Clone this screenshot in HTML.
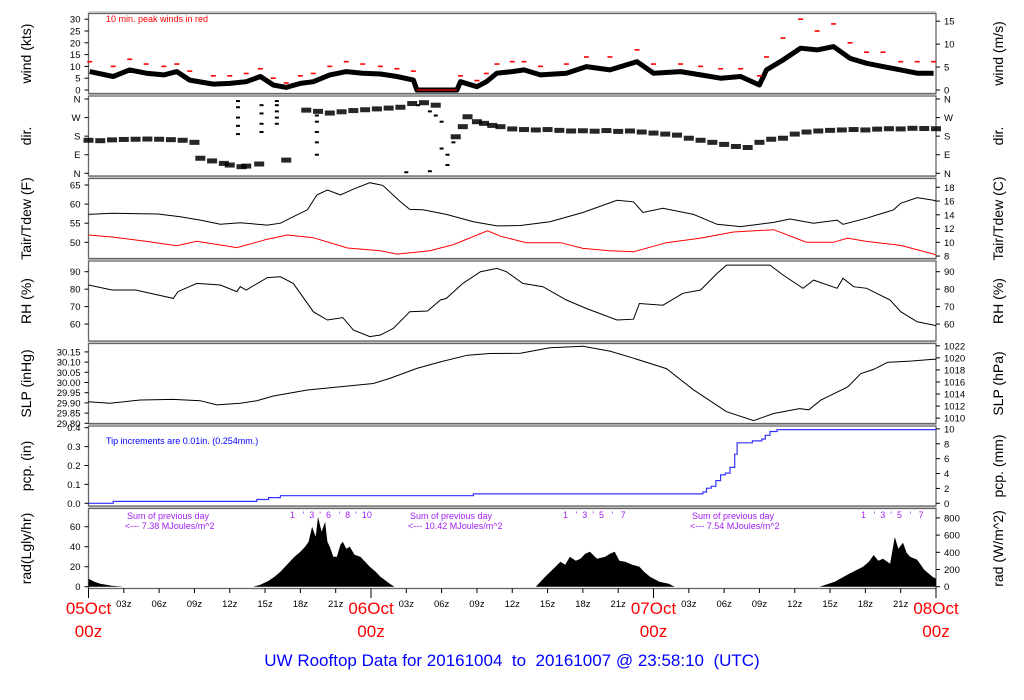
<!DOCTYPE html>
<html><head><meta charset="utf-8">
<style>
html,body{margin:0;padding:0;background:#fff;}
svg{display:block;font-family:"Liberation Sans",Arial,sans-serif;}
</style></head>
<body>
<svg id="chart" width="1024" height="700" viewBox="0 0 1024 700" xmlns="http://www.w3.org/2000/svg">
<g id="panels"></g>
<g id="marks"></g>
<g id="labels"></g>
<text x="106" y="22" font-size="9" fill="#ff0000">10 min. peak winds in red</text>
<text x="106" y="444" font-size="9" fill="#0000ff">Tip increments are 0.01in. (0.254mm.)</text>
<g fill="#a020f0" font-size="9">
<text x="127" y="519">Sum of previous day</text>
<text x="125" y="529">&lt;--- 7.38 MJoules/m^2</text>
<text x="410" y="519">Sum of previous day</text>
<text x="408" y="529">&lt;--- 10.42 MJoules/m^2</text>
<text x="692" y="519">Sum of previous day</text>
<text x="690" y="529">&lt;--- 7.54 MJoules/m^2</text>
<text x="290" y="518">1 &#160; ' &#160;3 &#160;' &#160;6 &#160; ' &#160;8 &#160;' &#160;10</text>
<text x="563" y="518">1 &#160; ' &#160;3 &#160;' &#160;5 &#160; ' &#160; 7</text>
<text x="861" y="518">1 &#160; ' &#160;3 &#160;' &#160;5 &#160; ' &#160; 7</text>
</g>
<text x="512" y="666" font-size="17" fill="#0000ff" text-anchor="middle">UW Rooftop Data for 20161004 &#160;to &#160;20161007 @ 23:58:10 &#160;(UTC)</text>
</svg>
<script>
// ---- data ----
const windT=[0.1,2.1,3.5,4.9,6.4,7.5,8.6,10.6,12,13.4,14.6,15.7,16.8,18,19.1,20.5,21.9,23.3,24.8,26.2,27.6,27.9,31.3,31.6,33,33.8,34.7,36,37,38.4,40.6,42.3,44.3,46.6,48,50.3,52,53.7,55.4,57,57.6,59,60.5,61.9,63.3,64.7,66.1,67.5,69,70.4,71.8];
const windV=[7.8,5.7,8.5,7.1,6.4,7.8,4.2,2.5,2.8,3.5,5.7,2.1,1.1,2.8,3.5,6.4,7.8,7.1,6.8,5.7,4.2,0,0,3.5,1.4,3.5,7.1,7.8,8.5,6.4,7.1,9.9,8.5,12,7.1,7.8,6.4,5,5.7,2.1,8.5,12.7,17.7,17,18.4,13.4,11.3,9.9,8.5,7.1,7.1];
const gustV=[12,10,13,11,10,11,8,6,6,7,9,5,3,6,7,10,12,11,10,9,8,null,null,6,4,7,11,12,12,10,11,14,14,17,11,11,10,9,9,6,14,22,30,25,28,20,16,16,12,12,12];
const dirT=[0,1,2,3,4,5,6,7,8,9,9.5,10.5,11.5,12,13,13.4,14.5,16.8,18.5,19.5,20.5,21.5,22.5,23.5,24.5,25.5,26.5,27.5,28.5,29.5,31.2,31.8,32.2,33,33.6,34.3,35,36,37,38,39,40,41,42,43,44,45,46,47,48,49,50,51,52,53,54,55,56,57,58,59,60,61,62,63,64,65,66,67,68,69,70,71,72];
const dirV=[160,158,162,164,165,166,165,163,160,150,73,60,48,40,32,35,45,64,306,300,292,298,304,308,312,316,320,338,342,330,177,226,274,250,242,232,226,215,212,210,212,208,205,206,204,207,203,205,200,195,190,185,170,160,150,140,130,125,150,165,170,190,200,205,208,210,212,210,214,216,215,218,217,216];
const dirScT=[12.7,12.7,12.7,12.7,12.7,14.7,14.7,14.7,14.7,16,16,16,16,16,19.4,19.4,19.4,19.4,19.4,29,29.5,30,30,30.5,30.5,28,29,27,31];
const dirScV=[350,320,270,230,190,330,290,240,200,350,330,300,270,240,280,250,200,150,90,300,280,250,120,90,40,330,10,5,150];
const tairT=[0,2,5.9,7.8,9.5,11.2,12.9,15.2,16.3,17.4,18.6,19.4,20.3,21.4,22.5,23.9,25,26.5,27.3,28.4,30.4,32.7,34.7,36.7,39.2,42,44.9,46.3,47.1,48.8,51.4,53.4,55.4,58.2,59.6,61.6,63.6,64.1,66.1,68.4,69,70.4,71.8,72];
const tairV=[57.3,57.6,57.4,56.7,55.8,54.7,55.1,54.5,55,56.7,58.5,62.4,63.7,62.4,63.9,65.6,64.9,60.6,58.6,58.5,57.3,55.4,54.3,54.4,55.4,57.8,61,60.6,57.8,58.9,57.3,54.7,54.1,55.2,56.1,55,55.8,54.7,56.3,58.5,60.2,61.7,61,60.8];
const tdewT=[0,2,5,7.5,9.2,12.6,15.2,16.9,19.1,22,24.8,26.2,29,31,33.9,35,37.2,40.1,42,44.3,46.3,49.1,52,54.8,58.2,60.4,61,63.3,64.5,66,69,71.8,72];
const tdewV=[51.9,51.4,50.2,49.1,50.3,48.6,50.8,51.9,51.2,48.5,47.8,46.9,47.8,49.4,53,51.6,49.9,49.9,48.4,47.8,47.5,49.9,51.1,52.7,53.3,50.7,50,50,51.1,50.3,49.2,46.9,46.7];
const rhT=[0,2,4,7.2,7.6,9.2,11.2,12.6,12.9,13.4,15.2,16.3,17.4,19.1,20.3,21.6,22.5,23.9,24.8,25.9,27.3,28.8,29.9,30.4,31.8,33.3,34.7,35.5,36.9,38.6,40.6,42.3,44.9,46.3,46.8,48.8,50.5,52,53.4,54.2,57.9,59,60.7,61.6,63.6,64.1,65,66.1,68.1,69,70.4,71.8,72];
const rhV=[82.4,79.5,79.5,74.7,78.6,83.3,82.4,78.6,81.4,79.5,86.6,87.1,83.3,67.1,62.3,63.7,56.6,52.8,53.7,57.5,67.1,67.5,73.8,74.7,83.3,90,91.9,90,83.3,81.4,73.8,68.9,62.3,62.8,71.8,70.8,77.6,79.5,89,93.8,93.8,88.1,80.5,85.2,80.5,86.2,81.4,80.5,73.8,67.1,61.3,59.4,59];
const slpT=[0,1.8,4.4,7.2,9.5,10.9,12.9,14.3,15.7,18.6,21.4,24.2,25.6,27.9,29.9,32.2,34.1,36.7,39.2,42,44.3,46.3,49.1,51.4,54.2,56.5,58.2,60.4,61.2,62.2,64.5,65.6,66.7,67.9,69.8,71.8,72];
const slpV=[29.906,29.898,29.914,29.917,29.911,29.890,29.898,29.911,29.934,29.963,29.979,29.995,30.020,30.069,30.101,30.134,30.142,30.143,30.170,30.178,30.154,30.119,30.068,29.964,29.857,29.813,29.848,29.872,29.866,29.913,29.978,30.043,30.064,30.099,30.105,30.114,30.114];
const pcpT=[0,2.1,14.3,15.3,16.3,32.7,52.2,52.5,52.9,53.3,53.7,54.1,54.5,54.9,55.1,56.4,57.2,57.5,57.9,58.5,72];
const pcpV=[0,0.01,0.02,0.03,0.04,0.05,0.06,0.08,0.09,0.12,0.15,0.16,0.19,0.26,0.32,0.33,0.34,0.36,0.38,0.39,0.39];
const radT=[0,0.5,1,2,3,14,14.6,15.3,15.8,16.3,16.7,17.1,17.5,18,18.4,18.7,19,19.3,19.5,19.8,20.1,20.3,20.5,20.8,21.1,21.4,21.6,21.9,22.2,22.6,23.1,23.5,23.9,24.4,24.8,25.6,26,38,38.8,39.5,40.1,40.5,40.9,41.4,41.8,42.2,42.6,43.2,43.9,44.3,44.7,45.1,45.6,46.2,46.8,47.2,47.7,48.5,49.3,49.8,62.1,63.4,64.7,65.3,65.8,66.3,66.7,67.1,67.5,68.1,68.5,68.8,69.2,69.5,69.8,70.4,71,71.7,72];
const radV=[8,5,3,1,0,0,2,6,10,15,20,25,30,35,40,45,60,50,70,55,65,45,40,30,30,42,45,38,40,32,30,25,20,15,10,3,0,0,10,18,25,22,30,26,28,33,35,28,30,33,35,26,25,22,20,15,10,5,3,0,0,5,13.5,17,20,25,31.7,26,28,23,49.7,38,44,34,30,27,17,10,8];
// ---- layout ----
const L=88.5,R=936;
const X=h=>L+h*(R-L)/72;
const tops=[13.5,96,178.5,261,343.5,426,508.5];const PH=80;
const yWind=v=>90-v*2.36;
const yDir=d=>173.3-d*(74.3/360);
const yT=f=>185+(65-f)*3.82;
const yRH=r=>271.7+(90-r)*1.745;
const ySLP=v=>423.3-(v-29.8)*204;
const yPcp=v=>503.3-v*189;
const yRad=v=>586.7-v*1.0;
const NS="http://www.w3.org/2000/svg";
function mk(tag,attrs,parent){const e=document.createElementNS(NS,tag);for(const k in attrs)e.setAttribute(k,attrs[k]);parent.appendChild(e);return e;}
const gp=document.getElementById('panels'),gm=document.getElementById('marks'),gl=document.getElementById('labels');
const panelNames=['wind-panel','direction-panel','temperature-panel','humidity-panel','pressure-panel','precip-panel','radiation-panel'];
tops.forEach((t,i)=>{
  const r=mk('rect',{x:L,y:t,width:R-L,height:PH,fill:'#fff',stroke:'#666','stroke-width':1.3},gp);
  
  
  const ln=mk('line',{x1:L,x2:R,y1:t-1.5,y2:t-1.5,stroke:'#aaa','stroke-width':1},gp);
  
  
});
function tick(side,y,label,name){
  const x0=side==='L'?L:R;const dx=side==='L'?-4:4;
  const tl=mk('line',{x1:x0,x2:x0+dx,y1:y,y2:y,stroke:'#000','stroke-width':1},gl);
  
  
  const tx=mk('text',{x:side==='L'?L-8:R+8,y:y+3.5,'font-size':9.5,'text-anchor':side==='L'?'end':'start',fill:'#000'},gl);
  tx.textContent=label;
  
  
}
[0,5,10,15,20,25,30].forEach(v=>tick('L',yWind(v),String(v),'wind-kts'));
[0,5,10,15].forEach(v=>tick('R',yWind(v*1.9438),String(v),'wind-ms'));
[['N',0],['E',90],['S',180],['W',270],['N',360]].forEach(([s,d])=>{tick('L',yDir(d),s,'dir-left');tick('R',yDir(d),s,'dir-right');});
[50,55,60,65].forEach(v=>tick('L',yT(v),String(v),'temp-f'));
[8,10,12,14,16,18].forEach(v=>tick('R',yT(v*1.8+32),String(v),'temp-c'));
[60,70,80,90].forEach(v=>{tick('L',yRH(v),String(v),'rh-left');tick('R',yRH(v),String(v),'rh-right');});
[29.80,29.85,29.90,29.95,30.00,30.05,30.10,30.15].forEach(v=>tick('L',ySLP(v),v.toFixed(2),'slp-inhg'));
[1010,1012,1014,1016,1018,1020,1022].forEach(v=>tick('R',ySLP(29.8+(v-1009.14)/33.8639),String(v),'slp-hpa'));
[0,0.1,0.2,0.3,0.4].forEach(v=>tick('L',yPcp(v),v.toFixed(1),'pcp-in'));
[0,2,4,6,8,10].forEach(v=>tick('R',yPcp(v/25.4),String(v),'pcp-mm'));
[0,20,40,60].forEach(v=>tick('L',yRad(v),String(v),'rad-lgly'));
[0,200,400,600,800].forEach(v=>tick('R',yRad(v/11.63),String(v),'rad-wm2'));
const titlesL=['wind (kts)','dir.','Tair/Tdew (F)','RH (%)','SLP (inHg)','pcp. (in)','rad(Lgly/hr)'];
const titlesR=['wind (m/s)','dir.','Tair/Tdew (C)','RH (%)','SLP (hPa)','pcp. (mm)','rad (W/m^2)'];
tops.forEach((t,i)=>{
  const cy=t+PH/2;
  const a=mk('text',{x:0,y:0,'font-size':14,'text-anchor':'middle',transform:`translate(31,${cy}) rotate(-90)`},gl);
  a.textContent=titlesL[i];
  
  
  const b=mk('text',{x:0,y:0,'font-size':14,'text-anchor':'middle',transform:`translate(1003,${cy}) rotate(-90)`},gl);
  b.textContent=titlesR[i];
  
  
});
for(let h=0;h<=72;h+=3){
  const x=X(h);const day=h%24===0;
  const tl=mk('line',{x1:x,x2:x,y1:588.5,y2:day?598:593,stroke:'#000','stroke-width':1},gl);
  
  
  if(!day){const t=mk('text',{x:x,y:607,'font-size':9.5,'text-anchor':'middle'},gl);
    t.textContent=String(h%24).padStart(2,'0')+'z';
    
    }
}
['05Oct','06Oct','07Oct','08Oct'].forEach((d,i)=>{
  const x=X(i*24);
  const a=mk('text',{x:x,y:614,'font-size':17,'text-anchor':'middle',fill:'#ff0000'},gl);a.textContent=d;
  
  
  const b=mk('text',{x:x,y:637,'font-size':17,'text-anchor':'middle',fill:'#ff0000'},gl);b.textContent='00z';
  
  
});
function pts(T,V,f){return T.map((t,i)=>X(t).toFixed(1)+','+f(V[i]).toFixed(1)).join(' ');}
const wb=mk('polyline',{points:pts(windT,windV,yWind),fill:'none',stroke:'#000','stroke-width':5,'stroke-linejoin':'round'},gm);


const wz=mk('line',{x1:X(27.9),x2:X(31.3),y1:yWind(0),y2:yWind(0),stroke:'#ff0000','stroke-width':1.2},gm);


gustV.forEach((g,i)=>{if(g==null)return;
  const r=mk('rect',{x:X(windT[i])-2.5,y:yWind(g)-0.8,width:5,height:1.6,fill:'#ff0000'},gm);
  
  
});
dirT.forEach((t,i)=>{
  const r=mk('rect',{x:X(t)-5,y:yDir(dirV[i])-2.5,width:10,height:5,fill:'#000',opacity:0.85},gm);
  
  
});
dirScT.forEach((t,i)=>{
  const r=mk('rect',{x:X(t)-2,y:yDir(dirScV[i])-1,width:4,height:2,fill:'#000'},gm);
  
  
});
const ta=mk('polyline',{points:pts(tairT,tairV,yT),fill:'none',stroke:'#000','stroke-width':1},gm);


const td=mk('polyline',{points:pts(tdewT,tdewV,yT),fill:'none',stroke:'#ff0000','stroke-width':1},gm);


const rh=mk('polyline',{points:pts(rhT,rhV,yRH),fill:'none',stroke:'#000','stroke-width':1},gm);


const sl=mk('polyline',{points:pts(slpT,slpV,ySLP),fill:'none',stroke:'#000','stroke-width':1},gm);


let pp=[];pcpT.forEach((t,i)=>{if(i>0)pp.push(X(t).toFixed(1)+','+yPcp(pcpV[i-1]).toFixed(1));pp.push(X(t).toFixed(1)+','+yPcp(pcpV[i]).toFixed(1));});
const pl=mk('polyline',{points:pp.join(' '),fill:'none',stroke:'#3333ff','stroke-width':1.2},gm);


const ra=mk('polygon',{points:X(0)+','+yRad(0)+' '+pts(radT,radV,yRad)+' '+X(72)+','+yRad(0),fill:'#000'},gm);


</script>
</body></html>
